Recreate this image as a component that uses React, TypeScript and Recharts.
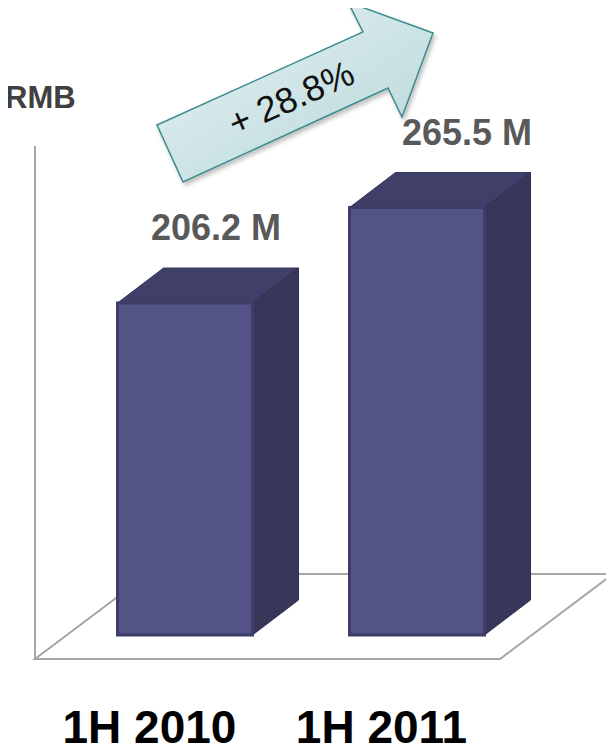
import { BarChart, Bar, XAxis, YAxis, LabelList } from 'recharts';

const PERIODS = ['1H 2010', '1H 2011'];
const REVENUE = [206.2, 265.5];
const VALUE_LABELS = ['206.2 M', '265.5 M'];
const GROWTH_LABEL = '+ 28.8%';
const UNIT_LABEL = 'RMB';

const data = PERIODS.map((name, i) => ({ name, value: REVENUE[i], label: VALUE_LABELS[i] }));

const DEPTH_X = 46;
const DEPTH_Y = 35;
const LABEL_DX = [31, 50];
const FONT = '"Liberation Sans", Arial, sans-serif';

function Bar3D(props: any) {
  const { x, y, width, height } = props;
  if (height <= 0) return null;
  const top = `${x},${y} ${x + DEPTH_X},${y - DEPTH_Y} ${x + width + DEPTH_X},${y - DEPTH_Y} ${x + width},${y}`;
  const side = `${x + width},${y} ${x + width + DEPTH_X},${y - DEPTH_Y} ${x + width + DEPTH_X},${y + height - DEPTH_Y} ${x + width},${y + height}`;
  return (
    <g>
      <polygon points={top} fill="#3f3f6a" stroke="#34345a" strokeWidth={1} />
      <polygon points={side} fill="#37375a" stroke="#303052" strokeWidth={1} />
      <rect x={x} y={y} width={width} height={height} fill="#535388" stroke="#3d3d68" strokeWidth={3} />
    </g>
  );
}

function ValueLabel(props: any) {
  const { x, y, width, value, index } = props;
  return (
    <text
      x={x + width / 2 + LABEL_DX[index]}
      y={y - DEPTH_Y - 28}
      textAnchor="middle"
      fontFamily={FONT}
      fontWeight="bold"
      fontSize={36}
      fill="#595959"
    >
      {value}
    </text>
  );
}

function PeriodTick(props: any) {
  const { x, y, payload } = props;
  return (
    <text x={x - 35} y={y + 108} textAnchor="middle" fontFamily={FONT} fontWeight="bold" fontSize={46} fill="#000">
      {payload.value}
    </text>
  );
}

export default function App() {
  return (
    <div
      style={{
        position: 'relative',
        width: 614,
        height: 753,
        marginLeft: -8,
        marginTop: -8,
        marginBottom: -8,
        overflow: 'hidden',
        background: '#fff',
      }}
    >
      {/* floor + vertical axis behind the bars */}
      <svg width={614} height={753} style={{ position: 'absolute', left: 0, top: 0 }}>
        <polygon points="35,659 500,659 613,574 148,574" fill="none" stroke="#a6a6a6" strokeWidth={2} />
        <line x1={35} y1={146} x2={35} y2={659} stroke="#a6a6a6" strokeWidth={2} />
      </svg>

      <div style={{ position: 'absolute', left: 0, top: 0 }}>
        <BarChart width={614} height={753} data={data} margin={{ top: 152, right: 81.5, left: 68.5, bottom: 88 }}>
          <XAxis dataKey="name" axisLine={false} tickLine={false} tickSize={0} tickMargin={0} height={30} tick={<PeriodTick />} interval={0} />
          <YAxis hide domain={[0, 300]} />
          <Bar dataKey="value" barSize={135} shape={<Bar3D />} isAnimationActive={false}>
            <LabelList dataKey="label" content={<ValueLabel />} />
          </Bar>
        </BarChart>
      </div>

      {/* growth arrow */}
      <svg width={614} height={753} style={{ position: 'absolute', left: 0, top: 0, pointerEvents: 'none' }}>
        <defs>
          <linearGradient id="arrowFill" x1="0" y1="0" x2="1" y2="1">
            <stop offset="0%" stopColor="#e8f3f4" />
            <stop offset="100%" stopColor="#b5d6d9" />
          </linearGradient>
          <filter id="arrowShadow" x="-10%" y="-10%" width="130%" height="130%">
            <feDropShadow dx={2} dy={3} stdDeviation={2} floodColor="#000" floodOpacity={0.25} />
          </filter>
        </defs>
        <polygon
          points="157,125 363,32 348,2 433,33 402,117 388,88 183,182"
          fill="url(#arrowFill)"
          stroke="#3e8b8d"
          strokeWidth={1.5}
          filter="url(#arrowShadow)"
        />
        <text
          x={291}
          y={98}
          transform="rotate(-24 291 98)"
          textAnchor="middle"
          dominantBaseline="central"
          fontFamily={FONT}
          fontSize={36}
          fill="#111"
        >
          {GROWTH_LABEL}
        </text>
        <text x={5} y={108} fontFamily={FONT} fontWeight="bold" fontSize={31} fill="#404040">
          {UNIT_LABEL}
        </text>
      </svg>
    </div>
  );
}
